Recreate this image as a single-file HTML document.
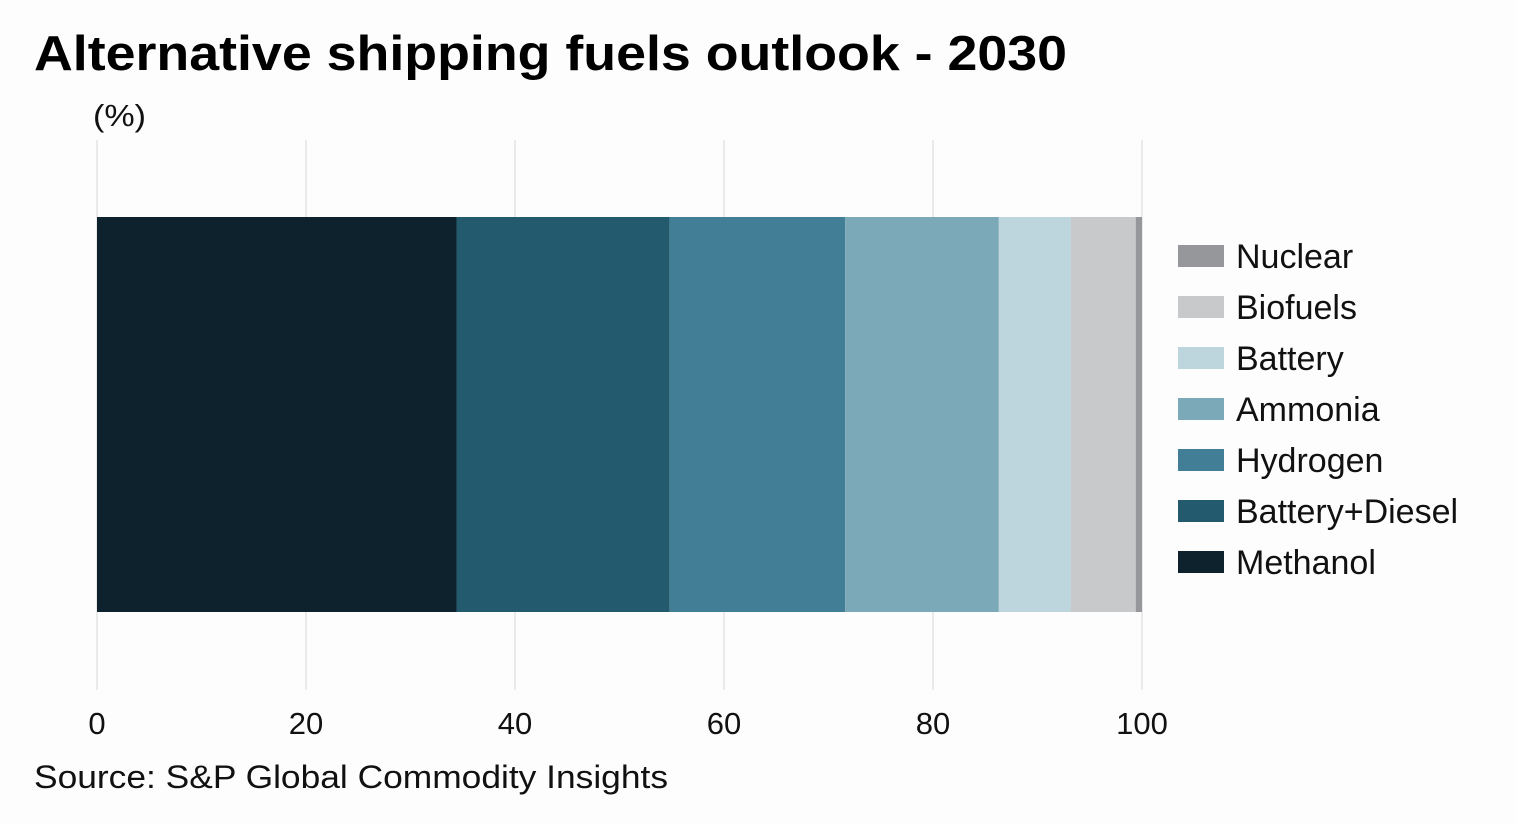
<!DOCTYPE html>
<html><head><meta charset="utf-8"><style>
body{margin:0;background:#fdfdfd;font-family:"Liberation Sans",sans-serif;}
svg{display:block}
</style></head><body>
<svg width="1516" height="824">
<rect width="1516" height="824" fill="#fdfdfd"/>
<text x="34" y="70" font-size="49" font-weight="bold" fill="#000" textLength="1033" lengthAdjust="spacingAndGlyphs">Alternative shipping fuels outlook - 2030</text>
<text x="93" y="126" font-size="31" fill="#111" textLength="53" lengthAdjust="spacingAndGlyphs">(%)</text>
<g id="grid"></g><g id="bars"></g><g id="ticks"></g><g id="legend"></g>
<text x="34" y="788" font-size="32" fill="#111" textLength="634" lengthAdjust="spacingAndGlyphs">Source: S&amp;P Global Commodity Insights</text>
</svg>
<script>
const categories=["Methanol","Battery+Diesel","Hydrogen","Ammonia","Battery","Biofuels","Nuclear"];
const values=[34.4,20.4,16.8,14.7,6.9,6.2,0.6];
const tickLabels=[0,20,40,60,80,100];
const colors=["#0d222c","#245a6e","#427f97","#7ca9b8","#bdd5dc","#c8c9cb","#96979b"];
const NS="http://www.w3.org/2000/svg";
const x=v=>97+v*10.45;
function mk(tag,attrs,parent){const e=document.createElementNS(NS,tag);for(const k in attrs)e.setAttribute(k,attrs[k]);document.getElementById(parent).appendChild(e);return e;}
tickLabels.forEach(t=>{
 const l=mk("line",{x1:x(t),x2:x(t),y1:140,y2:690,stroke:"#d6d6d6","stroke-width":1},"grid");
 
 
 const tx=mk("text",{x:x(t),y:734,"font-size":31,"text-anchor":"middle",fill:"#111"},"ticks");
 tx.textContent=t;
 
 
});
let cum=0;
values.forEach((v,i)=>{
 const r=mk("rect",{x:x(cum),y:217,width:x(cum+v)-x(cum),height:395,fill:colors[i]},"bars");
 
 
 cum+=v;
});
for(let j=0;j<categories.length;j++){
 const i=categories.length-1-j, cy=256+j*51;
 const s=mk("rect",{x:1178,y:cy-11,width:46,height:22,fill:colors[i]},"legend");
 
 
 const t=mk("text",{x:1236,y:cy+12,"font-size":34,fill:"#111"},"legend");
 t.textContent=categories[i];
 
 
}
</script>
</body></html>
